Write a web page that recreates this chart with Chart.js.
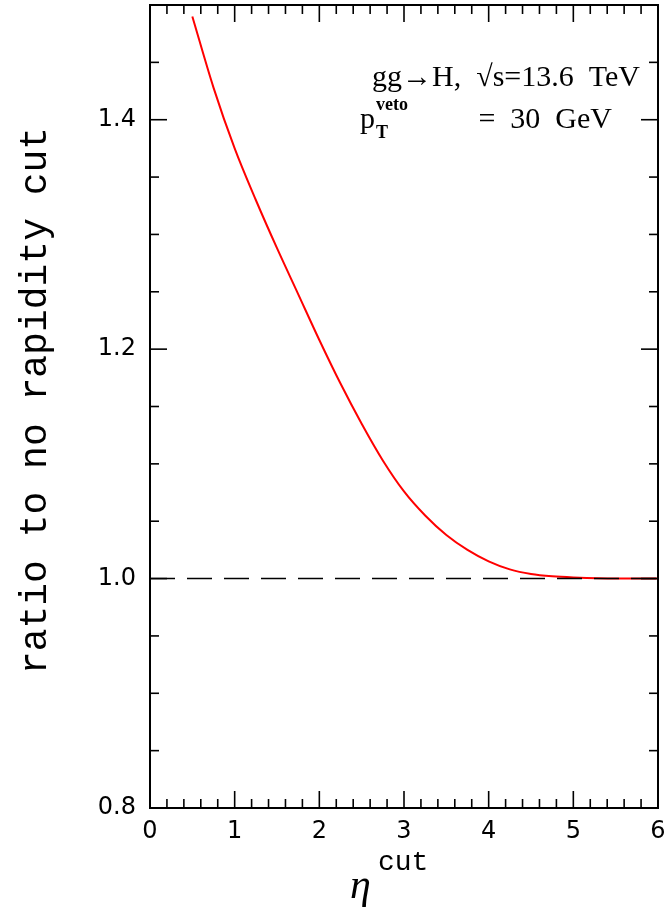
<!DOCTYPE html>
<html>
<head>
<meta charset="utf-8">
<script src="https://cdn.jsdelivr.net/npm/chart.js@4"></script>
<style>
  html, body { margin: 0; padding: 0; background: #fff; }
  #wrap { width: 668px; height: 913px; }
</style>
</head>
<body>
<div id="wrap"><canvas id="grafico"></canvas></div>
<script>
// eta cut values and ratio
const etaCut = [0.5, 0.75, 1, 1.25, 1.5, 1.75, 2, 2.25, 2.5, 2.75, 3, 3.25, 3.5, 3.75, 4, 4.25, 4.5, 4.75, 5, 5.5, 6];
const ratio = [1.490, 1.428, 1.375, 1.330, 1.288, 1.248, 1.208, 1.170, 1.135, 1.103, 1.076, 1.055, 1.038, 1.025, 1.015, 1.008, 1.004, 1.002, 1.001, 1.000, 1.000];
const refLine = [1, 1];
const refEta = [0, 6];

const xMajor = [0, 1, 2, 3, 4, 5, 6];
const xMinor = [0.2, 0.4, 0.6, 0.8, 1.2, 1.4, 1.6, 1.8, 2.2, 2.4, 2.6, 2.8, 3.2, 3.4, 3.6, 3.8, 4.2, 4.4, 4.6, 4.8, 5.2, 5.4, 5.6, 5.8];
const yMajor = [0.8, 1.0, 1.2, 1.4];
const yMinor = [0.85, 0.9, 0.95, 1.05, 1.1, 1.15, 1.25, 1.3, 1.35, 1.45];

const tickFont = "24px 'DejaVu Sans'";

const moldura = {
    id: "moldura",
    afterDraw(chart) {
        const ctx = chart.ctx;
        const a = chart.chartArea;
        const xs = chart.scales.x;
        const ys = chart.scales.y;
        ctx.save();
        ctx.strokeStyle = "#000";
        ctx.lineWidth = 2;
        ctx.strokeRect(a.left, a.top, a.right - a.left, a.bottom - a.top);
        ctx.lineWidth = 1.6;
        const tick = (x1, y1, x2, y2) => {
            ctx.beginPath();
            ctx.moveTo(x1, y1);
            ctx.lineTo(x2, y2);
            ctx.stroke();
        };
        xMajor.forEach(v => {
            const px = xs.getPixelForValue(v);
            tick(px, a.bottom, px, a.bottom - 17);
            tick(px, a.top, px, a.top + 17);
        });
        xMinor.forEach(v => {
            const px = xs.getPixelForValue(v);
            tick(px, a.bottom, px, a.bottom - 9);
            tick(px, a.top, px, a.top + 9);
        });
        yMajor.forEach(v => {
            const py = ys.getPixelForValue(v);
            tick(a.left, py, a.left + 17, py);
            tick(a.right, py, a.right - 17, py);
        });
        yMinor.forEach(v => {
            const py = ys.getPixelForValue(v);
            tick(a.left, py, a.left + 9, py);
            tick(a.right, py, a.right - 9, py);
        });

        ctx.fillStyle = "#000";
        ctx.font = tickFont;
        ctx.textAlign = "center";
        ctx.textBaseline = "top";
        xMajor.forEach(v => {
            ctx.fillText(String(v), xs.getPixelForValue(v), a.bottom + 12);
        });
        ctx.textAlign = "right";
        ctx.textBaseline = "middle";
        yMajor.forEach(v => {
            ctx.fillText(v.toFixed(1), a.left - 14, ys.getPixelForValue(v));
        });

        // axis titles
        ctx.font = "italic 42px 'Liberation Serif'";
        ctx.textAlign = "left";
        ctx.textBaseline = "alphabetic";
        ctx.fillText("\u03b7", 350, 898);
        ctx.font = "28px 'Liberation Mono'";
        ctx.fillText("cut", 378, 870);

        ctx.save();
        ctx.translate(46, (a.top + a.bottom) / 2 - 6);
        ctx.rotate(-Math.PI / 2);
        ctx.textAlign = "center";
        ctx.font = "38px 'Liberation Mono'";
        ctx.fillText("ratio to no rapidity cut", 0, 0);
        ctx.restore();

        // labels
        ctx.font = "30px 'Liberation Serif'";
        ctx.textAlign = "right";
        ctx.fillText("gg\u2192H,  \u221as=13.6  TeV", 640, 86);
        ctx.fillText("=  30  GeV", 612, 128);
        ctx.textAlign = "left";
        ctx.fillText("p", 360, 128);
        ctx.font = "bold 18px 'Liberation Serif'";
        ctx.fillText("veto", 376, 110);
        ctx.fillText("T", 376, 138);
        ctx.restore();
    }
};

new Chart(document.getElementById("grafico"), {
    type: "scatter",
    data: {
        datasets: [
            {
                data: refEta.map((x, i) => ({ x, y: refLine[i] })),
                showLine: true,
                borderColor: "#000",
                borderWidth: 1.6,
                borderDash: [25, 12],
                pointRadius: 0
            },
            {
                data: etaCut.map((x, i) => ({ x, y: ratio[i] })),
                showLine: true,
                borderColor: "#ff0000",
                borderWidth: 2,
                cubicInterpolationMode: "monotone",
                pointRadius: 0
            }
        ]
    },
    options: {
        responsive: true,
        maintainAspectRatio: false,
        animation: false,
        layout: { padding: { top: 5, right: 10, left: 0, bottom: 0 } },
        plugins: { legend: { display: false }, tooltip: { enabled: false } },
        scales: {
            x: {
                type: "linear", min: 0, max: 6,
                grid: { display: false },
                border: { display: false },
                ticks: { display: false },
                afterFit: s => { s.height = 105; }
            },
            y: {
                type: "linear", min: 0.8, max: 1.5,
                grid: { display: false },
                border: { display: false },
                ticks: { display: false },
                afterFit: s => { s.width = 150; }
            }
        }
    },
    plugins: [moldura]
});
</script>
</body>
</html>
